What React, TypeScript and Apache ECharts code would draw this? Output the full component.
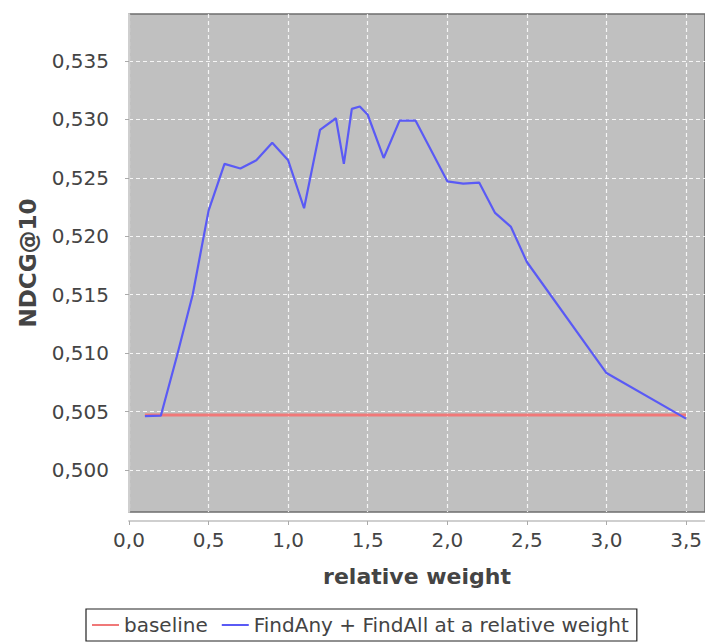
import React, { useEffect, useRef } from "react";
import * as echarts from "echarts";

const weights = [0.1, 0.2, 0.3, 0.4, 0.5, 0.6, 0.7, 0.8, 0.9, 1.0, 1.1, 1.2, 1.3, 1.35, 1.4, 1.45, 1.5, 1.6, 1.7, 1.8, 2.0, 2.1, 2.2, 2.3, 2.4, 2.5, 3.0, 3.5];
const findAnyAll = [0.50462, 0.50465, 0.5097, 0.515, 0.5222, 0.5262, 0.5258, 0.5265, 0.528, 0.5265, 0.5224, 0.5291, 0.5301, 0.5262, 0.5309, 0.5311, 0.5304, 0.5267, 0.5299, 0.5299, 0.5247, 0.5245, 0.5246, 0.522, 0.5208, 0.5178, 0.5083, 0.5044];
const baselineX = [0.1, 3.5];
const baselineY = [0.5047, 0.5047];
const xTicks = [0, 0.5, 1.0, 1.5, 2.0, 2.5, 3.0, 3.5];
const yTicks = [0.5, 0.505, 0.51, 0.515, 0.52, 0.525, 0.53, 0.535];
const seriesNames = ["baseline", "FindAny + FindAll at a relative weight"];

const FONT = "DejaVu Sans";

export default function App() {
  const ref = useRef<HTMLDivElement>(null);
  useEffect(() => {
    if (!ref.current) return;
    const chart = echarts.init(ref.current, undefined, { renderer: "svg" });
    chart.setOption({
      animation: false,
      backgroundColor: "#ffffff",
      textStyle: { fontFamily: FONT },
      grid: {
        left: 129,
        top: 14,
        right: 0,
        bottom: 131,
        show: true,
        backgroundColor: "#c0c0c0",
        borderColor: "#6e6e6e",
        borderWidth: 1.5,
      },
      legend: {
        left: 86,
        top: 609,
        padding: [6, 8, 6, 6],
        itemGap: 14,
        itemWidth: 27,
        itemHeight: 2,
        icon: "rect",
        borderColor: "#222",
        borderWidth: 1.2,
        backgroundColor: "#fff",
        textStyle: { fontFamily: FONT, fontSize: 20, color: "#444" },
        data: seriesNames,
      },
      xAxis: {
        type: "value",
        min: 0,
        max: 3.619,
        offset: 9,
        name: "relative weight",
        nameLocation: "middle",
        nameGap: 44,
        nameTextStyle: { fontFamily: FONT, fontSize: 22, fontWeight: "bold", color: "#444" },
        axisLine: { show: true, lineStyle: { color: "#cfcfcf", width: 2 } },
        axisTick: { show: true, length: 4, lineStyle: { color: "#aaa" }, customValues: xTicks },
        axisLabel: {
          customValues: xTicks,
          margin: 9,
          fontFamily: FONT,
          fontSize: 20,
          color: "#444",
          formatter: (v: number) => v.toFixed(1).replace(".", ","),
        },
        splitLine: { show: true, lineStyle: { color: "rgba(255,255,255,0.85)", width: 1.2, type: [4, 3] } },
      },
      yAxis: {
        type: "value",
        min: 0.49641,
        max: 0.53902,
        offset: 8,
        name: "NDCG@10",
        nameLocation: "middle",
        nameGap: 82,
        nameRotate: 90,
        nameTextStyle: { fontFamily: FONT, fontSize: 23, fontWeight: "bold", color: "#444" },
        axisLine: { show: true, lineStyle: { color: "#cfcfcf", width: 2 } },
        axisTick: { show: true, length: 4, lineStyle: { color: "#aaa" }, customValues: yTicks },
        axisLabel: {
          customValues: yTicks,
          margin: 12,
          fontFamily: FONT,
          fontSize: 20,
          color: "#444",
          formatter: (v: number) => v.toFixed(3).replace(".", ","),
        },
        splitLine: { show: true, lineStyle: { color: "rgba(255,255,255,0.85)", width: 1.2, type: [4, 3] } },
      },
      series: [
        {
          name: seriesNames[0],
          type: "line",
          symbol: "none",
          color: "#f07878",
          lineStyle: { width: 3, color: "#f07878" },
          data: baselineX.map((x, i) => [x, baselineY[i]]),
          z: 2,
        },
        {
          name: seriesNames[1],
          type: "line",
          symbol: "none",
          color: "#5a5af5",
          lineStyle: { width: 2.2, color: "#5a5af5" },
          data: weights.map((x, i) => [x, findAnyAll[i]]),
          z: 3,
        },
      ],
    });
    return () => chart.dispose();
  }, []);
  return <div ref={ref} style={{ position: "fixed", left: 0, top: 0, width: 705, height: 643 }} />;
}
